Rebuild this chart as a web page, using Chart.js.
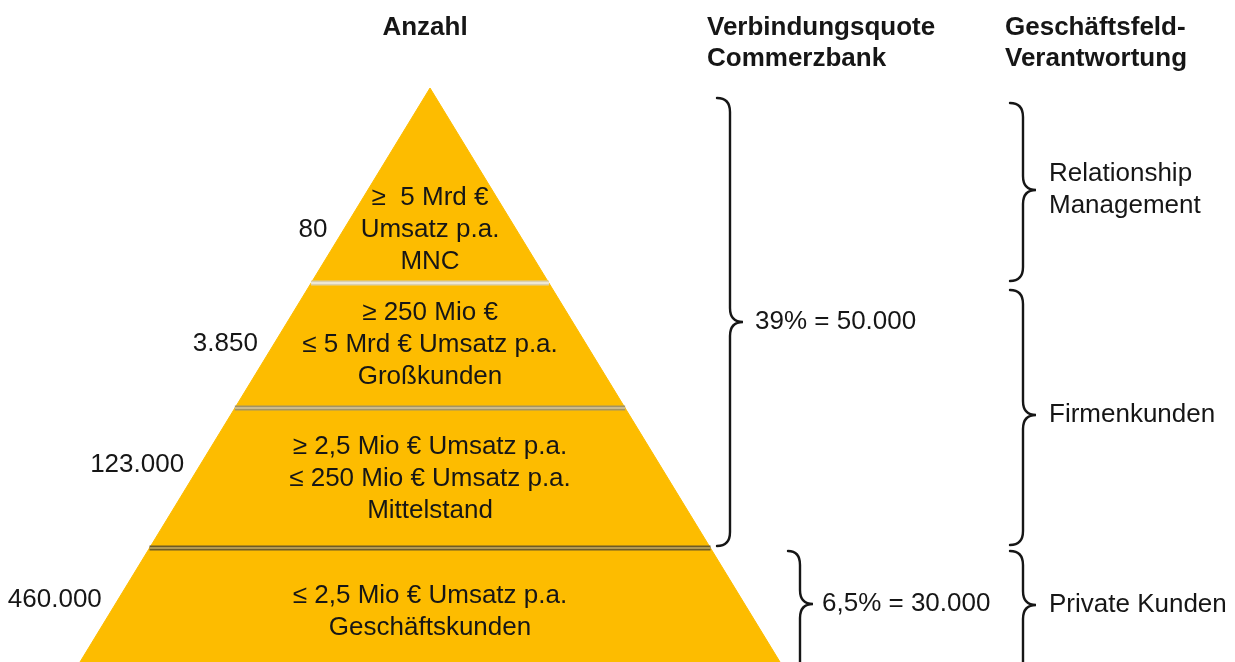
<!DOCTYPE html>
<html>
<head>
<meta charset="utf-8">
<script src="https://cdn.jsdelivr.net/npm/chart.js@4.4.1/dist/chart.umd.min.js"></script>
<style>
  html, body { margin: 0; padding: 0; background: #fff; }
  #pyramid { display: block; }
</style>
</head>
<body>
<canvas id="pyramid" width="1235" height="662"></canvas>
<script>
(function(){

  // ---- data ----
  const segmentNames = ['MNC', 'Großkunden', 'Mittelstand', 'Geschäftskunden'];
  const segmentCriteria = [
    ['≥  5 Mrd €', 'Umsatz p.a.'],
    ['≥ 250 Mio €', '≤ 5 Mrd € Umsatz p.a.'],
    ['≥ 2,5 Mio € Umsatz p.a.', '≤ 250 Mio € Umsatz p.a.'],
    ['≤ 2,5 Mio € Umsatz p.a.']
  ];
  const companyCounts = [80, 3850, 123000, 460000];
  const quoteLabels = ['39% = 50.000', '6,5% = 30.000'];
  const quoteSpans = [[0, 2], [3, 3]];
  const responsibilityLabels = [['Relationship', 'Management'], ['Firmenkunden'], ['Private Kunden']];
  const responsibilitySpans = [[0, 0], [1, 2], [3, 3]];
  const headers = {
    count: ['Anzahl'],
    quote: ['Verbindungsquote', 'Commerzbank'],
    responsibility: ['Geschäftsfeld-', 'Verantwortung']
  };

  // ---- layout (pixels, y grows downward) ----
  const W = 1235, H = 662;
  const apex = { x: 430, y: 88 };
  const halfSlope = 350 / 574;                 // half width per px of height
  const bandEdgeY = [88, 283, 408, 548, 662];
  const labelCenterY = [230, 345, 479, 612];
  const countY = [230, 344, 465, 600];
  const lineH = 32;
  const quoteBrace = { hookX: 717, spineX: 730, tipX: 743, textX: 755, tipY: [322, 604], ends: [[98, 546], [551, 690]] };
  const quoteBrace2X = { hookX: 788, spineX: 800, tipX: 813, textX: 822 };
  const respBrace = { hookX: 1010, spineX: 1023, tipX: 1036, textX: 1049, tipY: [190, 415, 605], ends: [[103, 281], [290, 545], [551, 690]] };

  const FILL = '#FDBC00';
  const INK = '#161616';
  const BODY_FONT = '26px "Liberation Sans", Arial, sans-serif';
  const HEAD_FONT = 'bold 26px "Liberation Sans", Arial, sans-serif';
  const sepOuter = ['#d9cfae', '#a39463', '#6e5b26'];
  const sepInner = ['#f4efe0', '#d8c79a', '#c8ad62'];

  const edgeX = (y, side) => apex.x + side * (y - apex.y) * halfSlope;

  const formatCount = (n) => n.toLocaleString('de-DE');

  // pyramid bands as closed polygons
  function bandDataset(i) {
    const top = bandEdgeY[i], bottom = bandEdgeY[i + 1];
    const pts = [
      { x: edgeX(top, -1), y: top },
      { x: edgeX(top, 1), y: top },
      { x: edgeX(bottom, 1), y: bottom },
      { x: edgeX(bottom, -1), y: bottom },
      { x: edgeX(top, -1), y: top }
    ];
    return {
      label: segmentNames[i],
      data: pts,
      showLine: true,
      fill: 'shape',
      backgroundColor: FILL,
      borderColor: FILL,
      borderWidth: 1,
      pointRadius: 0,
      order: 3
    };
  }

  function separatorDatasets(k) {
    const y = bandEdgeY[k + 1];
    const pts = [{ x: edgeX(y, -1), y: y }, { x: edgeX(y, 1), y: y }];
    return [
      { data: pts, showLine: true, borderColor: sepOuter[k], borderWidth: 5, pointRadius: 0, fill: false, order: 2 },
      { data: pts, showLine: true, borderColor: sepInner[k], borderWidth: 1.5, pointRadius: 0, fill: false, order: 1 }
    ];
  }

  const datasets = [];
  segmentNames.forEach((_, i) => datasets.push(bandDataset(i)));
  [0, 1, 2].forEach(k => datasets.push(...separatorDatasets(k)));

  function drawBrace(ctx, b, y0, ym, y1) {
    const r = 14;
    ctx.beginPath();
    ctx.moveTo(b.hookX, y0);
    ctx.quadraticCurveTo(b.spineX, y0, b.spineX, y0 + r);
    ctx.lineTo(b.spineX, ym - r);
    ctx.quadraticCurveTo(b.spineX, ym, b.tipX, ym);
    ctx.quadraticCurveTo(b.spineX, ym, b.spineX, ym + r);
    ctx.lineTo(b.spineX, y1 - r);
    ctx.quadraticCurveTo(b.spineX, y1, b.hookX, y1);
    ctx.stroke();
  }

  function drawLines(ctx, lines, x, cy) {
    const start = cy - (lines.length - 1) * lineH / 2;
    lines.forEach((t, j) => ctx.fillText(t, x, start + j * lineH));
  }

  const annotations = {
    id: 'annotations',
    afterDatasetsDraw(chart) {
      const ctx = chart.ctx;
      ctx.save();
      ctx.fillStyle = INK;
      ctx.strokeStyle = INK;
      ctx.textBaseline = 'middle';

      // headers
      ctx.font = HEAD_FONT;
      ctx.textAlign = 'center';
      ctx.fillText(headers.count[0], 425, 28);
      ctx.textAlign = 'left';
      headers.quote.forEach((t, j) => ctx.fillText(t, 707, 28 + j * 31));
      headers.responsibility.forEach((t, j) => ctx.fillText(t, 1005, 28 + j * 31));

      // segment labels inside pyramid
      ctx.font = BODY_FONT;
      ctx.textAlign = 'center';
      segmentNames.forEach((name, i) => {
        drawLines(ctx, segmentCriteria[i].concat([name]), apex.x, labelCenterY[i]);
      });

      // counts left of pyramid
      ctx.textAlign = 'right';
      companyCounts.forEach((n, i) => {
        ctx.fillText(formatCount(n), edgeX(countY[i], -1) - 16, countY[i]);
      });

      // braces
      ctx.lineWidth = 2.4;
      ctx.lineCap = 'round';
      ctx.textAlign = 'left';
      quoteLabels.forEach((t, i) => {
        const b = i === 0 ? quoteBrace : quoteBrace2X;
        const [y0, y1] = quoteBrace.ends[i];
        const ym = quoteBrace.tipY[i];
        drawBrace(ctx, b, y0, ym, y1);
        ctx.fillText(t, b.textX, ym);
      });
      responsibilityLabels.forEach((lines, i) => {
        const [y0, y1] = respBrace.ends[i];
        const ym = respBrace.tipY[i];
        drawBrace(ctx, respBrace, y0, ym, y1);
        drawLines(ctx, lines, respBrace.textX, ym);
      });

      ctx.restore();
    }
  };

  new Chart(document.getElementById('pyramid').getContext('2d'), {
    type: 'scatter',
    data: { datasets },
    options: {
      responsive: false,
      animation: false,
      layout: { padding: 0 },
      plugins: { legend: { display: false }, tooltip: { enabled: false } },
      scales: {
        x: { type: 'linear', min: 0, max: W, display: false },
        y: { type: 'linear', min: 0, max: H, reverse: true, display: false }
      }
    },
    plugins: [annotations]
  });

})();
</script>
</body>
</html>
